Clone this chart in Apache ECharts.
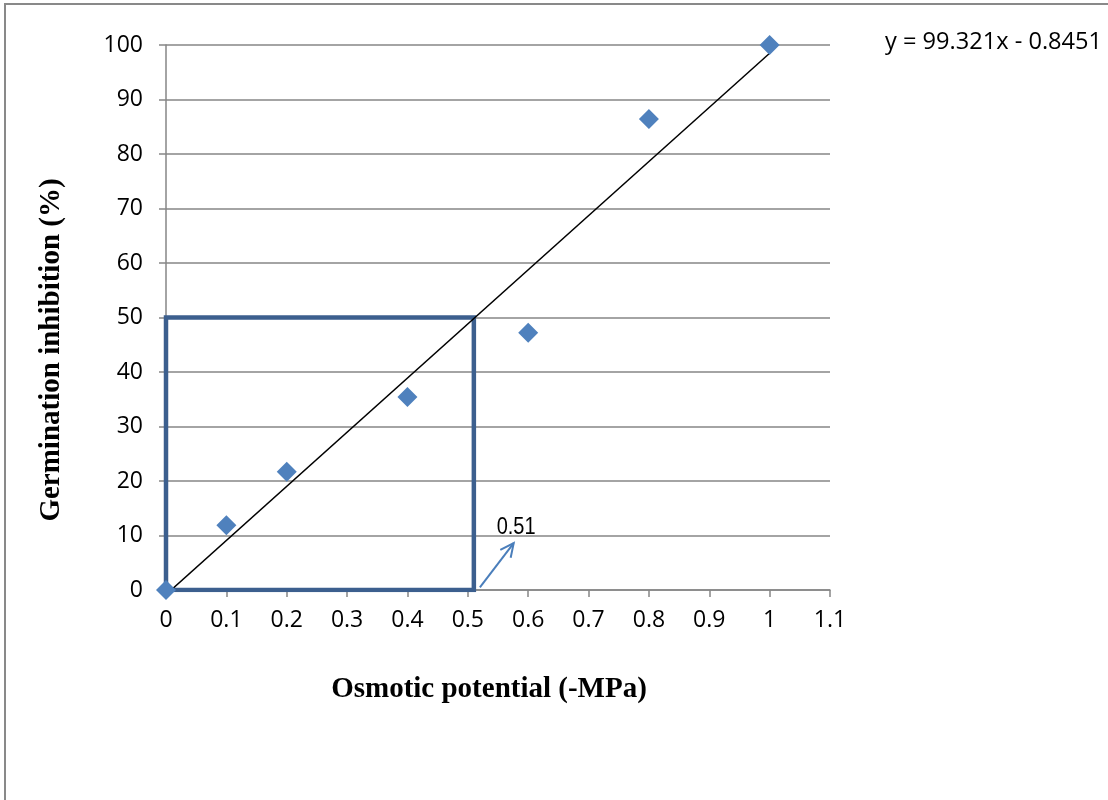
<!DOCTYPE html>
<html>
<head>
<meta charset="utf-8">
<script src="https://cdn.jsdelivr.net/npm/echarts@6/dist/echarts.min.js"></script>
<style>
  html, body { margin: 0; padding: 0; background: #fff; }
  #chart { width: 1108px; height: 800px; }
</style>
</head>
<body>
<div id="chart"></div>
<script>
// Osmotic potential (-MPa) and germination inhibition (%)
const osmoticPotential = [0, 0.1, 0.2, 0.4, 0.6, 0.8, 1.0];
const inhibition = [0, 11.9, 21.7, 35.4, 47.2, 86.4, 100];

// Linear trend line: y = slope * x + intercept
const slope = 99.321;
const intercept = -0.8451;
const trendRange = [0, 1];

// Potential at 50 % inhibition
const halfInhibition = 50;
const halfPotential = 0.51;

const xTicks = [0, 0.1, 0.2, 0.3, 0.4, 0.5, 0.6, 0.7, 0.8, 0.9, 1, 1.1];
const yTicks = [0, 10, 20, 30, 40, 50, 60, 70, 80, 90, 100];

const xTitle = 'Osmotic potential (-MPa)';
const yTitle = 'Germination inhibition (%)';

const trendData = trendRange.map(x => [x, slope * x + intercept]);
const boxData = [[0, 0], [0, halfInhibition], [halfPotential, halfInhibition], [halfPotential, 0], [0, 0]];
const equationText = 'y = ' + slope + 'x - ' + Math.abs(intercept);

const chart = echarts.init(document.getElementById('chart'), null, { renderer: 'canvas' });

const gridColor = '#868686';
const labelFont = { fontFamily: 'Open Sans', fontSize: 23, color: '#000' };
const titleStyle = { fontFamily: 'Liberation Serif', fontWeight: 'bold', fontSize: 29, fill: '#000', align: 'center', verticalAlign: 'middle' };

chart.setOption({
  animation: false,
  backgroundColor: '#fff',
  grid: { left: 166, right: 278, top: 45, bottom: 210 },
  xAxis: {
    type: 'value',
    min: xTicks[0],
    max: xTicks[xTicks.length - 1],
    interval: 0.1,
    axisLine: { show: true, lineStyle: { color: gridColor, width: 1.5 } },
    axisTick: { show: true, inside: false, length: 7, lineStyle: { color: gridColor, width: 1.5 } },
    axisLabel: Object.assign({ margin: 19, formatter: v => String(Math.round(v * 10) / 10) }, labelFont),
    splitLine: { show: false }
  },
  yAxis: {
    type: 'value',
    min: yTicks[0],
    max: yTicks[yTicks.length - 1],
    interval: 10,
    axisLine: { show: true, lineStyle: { color: gridColor, width: 1.5 } },
    axisTick: { show: true, inside: false, length: 7, lineStyle: { color: gridColor, width: 1.5 } },
    axisLabel: Object.assign({ margin: 23 }, labelFont),
    splitLine: { show: true, lineStyle: { color: gridColor, width: 1.5 } }
  },
  series: [
    {
      name: 'box',
      type: 'line',
      data: boxData,
      symbol: 'none',
      lineStyle: { color: '#3C5F8E', width: 4.5, join: 'miter' },
      z: 2,
      silent: true
    },
    {
      name: 'trend',
      type: 'line',
      data: trendData,
      symbol: 'none',
      clip: true,
      lineStyle: { color: '#000', width: 1.5 },
      z: 3,
      silent: true
    },
    {
      name: 'inhibition',
      type: 'scatter',
      data: osmoticPotential.map((x, i) => [x, inhibition[i]]),
      symbol: 'diamond',
      symbolSize: 20,
      itemStyle: { color: '#4F81BD', opacity: 1 },
      z: 4
    }
  ]
});

// Arrow pointing at the 50 % potential, with its value label
const p0 = chart.convertToPixel({ gridIndex: 0 }, [halfPotential + 0.01, 0.5]);
const p1 = chart.convertToPixel({ gridIndex: 0 }, [halfPotential + 0.066, 8.6]);
const ang = Math.atan2(p1[1] - p0[1], p1[0] - p0[0]);
const head = 15, spread = 0.45;
const h1 = [p1[0] - head * Math.cos(ang - spread), p1[1] - head * Math.sin(ang - spread)];
const h2 = [p1[0] - head * Math.cos(ang + spread), p1[1] - head * Math.sin(ang + spread)];
const labelPos = chart.convertToPixel({ gridIndex: 0 }, [halfPotential + 0.07, 11.5]);

chart.setOption({
  graphic: [
    {
      type: 'rect',
      shape: { x: 5, y: 4, width: 1300, height: 1000 },
      style: { fill: null, stroke: '#898989', lineWidth: 2 },
      silent: true,
      z: 0
    },
    {
      type: 'text',
      x: 489,
      y: 690,
      style: Object.assign({ text: xTitle }, titleStyle)
    },
    {
      type: 'text',
      x: 52,
      y: 350,
      rotation: Math.PI / 2,
      style: Object.assign({ text: yTitle }, titleStyle)
    },
    {
      type: 'text',
      left: 885,
      top: 30,
      style: { text: equationText, fontFamily: 'Open Sans', fontSize: 23.6, fill: '#000' }
    },
    {
      type: 'polyline',
      shape: { points: [p0, p1] },
      style: { stroke: '#4A7EBB', lineWidth: 2, fill: null },
      z: 10
    },
    {
      type: 'polyline',
      shape: { points: [h1, p1, h2] },
      style: { stroke: '#4A7EBB', lineWidth: 2, fill: null },
      z: 10
    },
    {
      type: 'text',
      x: labelPos[0],
      y: labelPos[1],
      scaleY: 1.15,
      style: {
        text: String(halfPotential),
        fontFamily: 'Liberation Sans',
        fontSize: 20,
        fill: '#000',
        align: 'center',
        verticalAlign: 'middle'
      },
      z: 10
    }
  ]
});
</script>
</body>
</html>
